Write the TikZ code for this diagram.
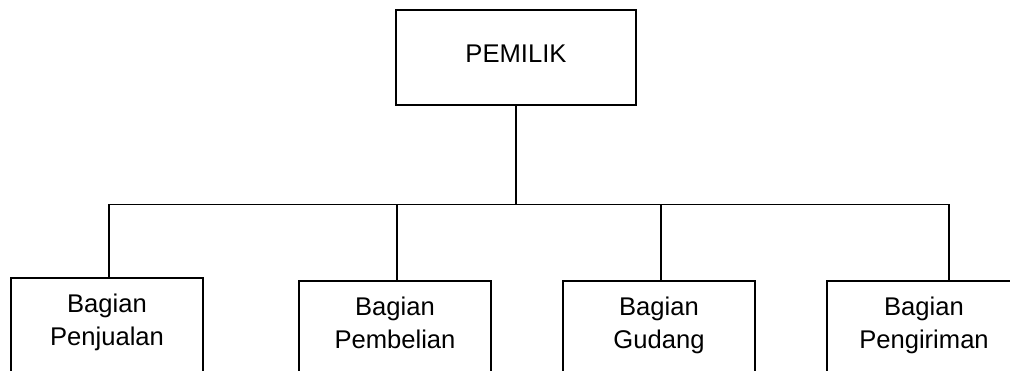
\documentclass[tikz,border=0pt]{standalone}
\usepackage{fontspec}
\setmainfont{Liberation Sans}
\begin{document}
\begin{tikzpicture}[x=1pt,y=1pt,
  box/.style={draw, line width=1.8pt, rectangle, inner sep=0pt},
  lbl/.style={font=\fontsize{25.6}{33}\selectfont, align=center, inner sep=0pt, anchor=north},
  link/.style={line width=1.8pt}]
\useasboundingbox (0,0) rectangle (1010,371);
\clip (0,0) rectangle (1010,371);
\node[box, minimum width=240pt, minimum height=95pt, font=\fontsize{25.6}{33}\selectfont, text depth=7pt] (pemilik) at (516,313.5) {PEMILIK};
\node[box, minimum width=192pt, minimum height=140pt] (b1) at (107,23) {};
\node[box, minimum width=192pt, minimum height=140pt] (b2) at (395,20) {};
\node[box, minimum width=192pt, minimum height=140pt] (b3) at (659,20) {};
\node[box, minimum width=194pt, minimum height=140pt] (b4) at (924,20) {};
\node[lbl] (t1) at ([yshift=-17pt]b1.north) {Bagian\\Penjualan};
\node[lbl] (t2) at ([yshift=-17pt]b2.north) {Bagian\\Pembelian};
\node[lbl] (t3) at ([yshift=-17pt]b3.north) {Bagian\\Gudang};
\node[lbl] (t4) at ([yshift=-17pt]b4.north) {Bagian\\Pengiriman};
\coordinate (j1) at (109,166.5);
\coordinate (j2) at (397,166.5);
\coordinate (j3) at (661,166.5);
\coordinate (j4) at (949,166.5);
\draw[link] (pemilik.south) -- (pemilik.south |- j1);
\draw[link] (j1 |- b1.north) -- (j1) -- (j4) -- (j4 |- b4.north);
\draw[link] (j2) -- (j2 |- b2.north);
\draw[link] (j3) -- (j3 |- b3.north);
\end{tikzpicture}
\end{document}
